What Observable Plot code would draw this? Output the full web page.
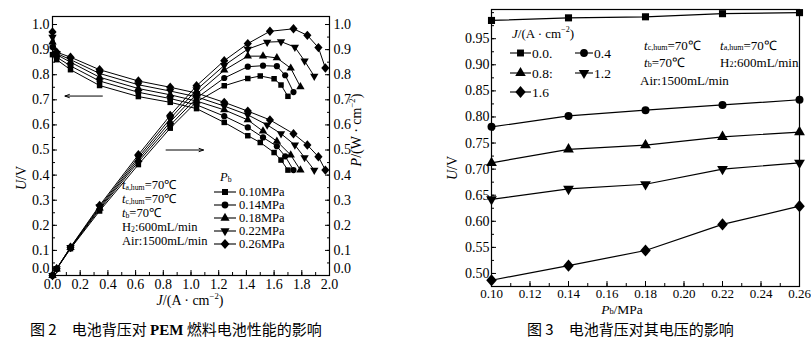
<!DOCTYPE html>
<html><head><meta charset="utf-8">
<script src="https://cdn.jsdelivr.net/npm/d3@7"></script>
<script src="https://cdn.jsdelivr.net/npm/@observablehq/plot@0.6"></script>
<style>
body{margin:0;background:#fff;}
#wrap{position:relative;width:811px;height:344px;overflow:hidden;background:#fff;}
.chart{position:absolute;}
.chart svg{overflow:visible;}
.cap{position:absolute;font-family:"Noto Sans CJK SC",sans-serif;font-size:15px;color:#000;white-space:nowrap;line-height:1;}
#overlay{position:absolute;left:0;top:0;}
</style></head><body>
<div id="wrap">
  <div id="left" class="chart" style="left:0;top:0"></div>
  <div id="right" class="chart" style="left:440px;top:0"></div>
  <svg id="overlay" width="811" height="344"></svg>
  <div class="cap" style="left:30px;top:321px">图 2　电池背压对 <b style="font-family:'Liberation Serif',serif;font-size:15px">PEM</b> 燃料电池性能的影响</div>
  <div class="cap" style="left:527px;top:321px">图 3　电池背压对其电压的影响</div>
</div>
<script>
// ---------- Figure 2 data (J in A/cm2, U in V, P in W/cm2) ----------
const backPressures = ["0.10MPa", "0.14MPa", "0.18MPa", "0.22MPa", "0.26MPa"];

const J_p010 = [0, 0.03, 0.13, 0.34, 0.62, 0.85, 1.04, 1.24, 1.41, 1.50, 1.60, 1.65, 1.70];
const U_p010 = [0.88, 0.86, 0.82, 0.757, 0.713, 0.69, 0.665, 0.61, 0.557, 0.53, 0.49, 0.46, 0.42];
const P_p010 = [0, 0.026, 0.107, 0.257, 0.442, 0.587, 0.692, 0.756, 0.785, 0.795, 0.784, 0.759, 0.714];

const J_p014 = [0, 0.03, 0.13, 0.34, 0.62, 0.85, 1.04, 1.24, 1.41, 1.52, 1.62, 1.68, 1.74];
const U_p014 = [0.91, 0.87, 0.835, 0.775, 0.73, 0.705, 0.68, 0.635, 0.59, 0.55, 0.515, 0.475, 0.42];
const P_p014 = [0, 0.026, 0.109, 0.264, 0.453, 0.599, 0.707, 0.787, 0.832, 0.836, 0.834, 0.798, 0.731];

const J_p018 = [0, 0.03, 0.13, 0.34, 0.62, 0.85, 1.04, 1.24, 1.41, 1.52, 1.62, 1.72, 1.79];
const U_p018 = [0.93, 0.88, 0.85, 0.79, 0.745, 0.72, 0.695, 0.66, 0.62, 0.575, 0.535, 0.48, 0.42];
const P_p018 = [0, 0.026, 0.111, 0.269, 0.462, 0.612, 0.723, 0.818, 0.874, 0.874, 0.867, 0.826, 0.752];

const J_p022 = [0, 0.03, 0.13, 0.34, 0.62, 0.85, 1.04, 1.24, 1.41, 1.55, 1.65, 1.75, 1.82, 1.89];
const U_p022 = [0.95, 0.885, 0.86, 0.805, 0.76, 0.735, 0.712, 0.675, 0.64, 0.60, 0.565, 0.52, 0.47, 0.42];
const P_p022 = [0, 0.027, 0.112, 0.274, 0.471, 0.625, 0.740, 0.837, 0.902, 0.930, 0.932, 0.910, 0.855, 0.794];

const J_p026 = [0, 0.03, 0.13, 0.34, 0.62, 0.85, 1.04, 1.24, 1.41, 1.57, 1.74, 1.84, 1.92, 1.97];
const U_p026 = [0.97, 0.89, 0.87, 0.82, 0.775, 0.75, 0.727, 0.69, 0.655, 0.62, 0.565, 0.52, 0.473, 0.42];
const P_p026 = [0, 0.027, 0.113, 0.279, 0.481, 0.638, 0.756, 0.856, 0.924, 0.973, 0.983, 0.957, 0.908, 0.827];

const fig2X_ticks = [0, 0.2, 0.4, 0.6, 0.8, 1.0, 1.2, 1.4, 1.6, 1.8, 2.0];
const fig2Y_ticks = [0.1, 0.2, 0.3, 0.4, 0.5, 0.6, 0.7, 0.8, 0.9, 1.0];
const fig2Y_origin = [0];
const fig2Arrows = [
  {x1: 0.36, y1: 0.715, x2: 0.09, y2: 0.715},
  {x1: 0.82, y1: 0.50, x2: 1.09, y2: 0.50}
];

// ---------- Figure 3 data (Pb in MPa, U in V) ----------
const Pb = [0.10, 0.14, 0.18, 0.22, 0.26];
const currentLabels = ["0.0.", "0.4", "0.8:", "1.2", "1.6"];
const U_J00 = [0.985, 0.990, 0.992, 0.998, 1.000];
const U_J04 = [0.781, 0.802, 0.813, 0.823, 0.833];
const U_J08 = [0.712, 0.738, 0.746, 0.762, 0.771];
const U_J12 = [0.642, 0.662, 0.671, 0.700, 0.712];
const U_J16 = [0.487, 0.515, 0.544, 0.594, 0.629];
const fig3X_ticks = [0.10, 0.12, 0.14, 0.16, 0.18, 0.20, 0.22, 0.24, 0.26];
const fig3Y_ticks = [0.50, 0.55, 0.60, 0.65, 0.70, 0.75, 0.80, 0.85, 0.90, 0.95];

// ---------- symbols ----------
const S3 = Math.sqrt(3);
const symTriDown = {draw(c, s) { const y = -Math.sqrt(s / (S3 * 3)); c.moveTo(0, -y * 2); c.lineTo(-S3 * y, y); c.lineTo(S3 * y, y); c.closePath(); }};
const symDiamond = {draw(c, s) { const r = Math.sqrt(s / 2) * 1.05; c.moveTo(0, -r * 1.15); c.lineTo(r, 0); c.lineTo(0, r * 1.15); c.lineTo(-r, 0); c.closePath(); }};
const symbols = [d3.symbolSquare, d3.symbolCircle, d3.symbolTriangle, symTriDown, symDiamond];

const serif = "'Liberation Serif', 'Times New Roman', serif";
const rows2 = [
  [J_p010, U_p010, P_p010], [J_p014, U_p014, P_p014], [J_p018, U_p018, P_p018],
  [J_p022, U_p022, P_p022], [J_p026, U_p026, P_p026]
].map(([J, U, P], k) => J.map((j, i) => ({series: backPressures[k], J: j, U: U[i], P: P[i]})));

const minor = (a, b, step) => d3.range(Math.round((b - a) / step) + 1).map(i => +(a + i * step).toFixed(4));
const f1 = d3.format(".1f");

// ---------- Figure 2 ----------
const marks2 = [
  Plot.frame({stroke: "#000", strokeWidth: 1.2}),
  Plot.axisX(fig2X_ticks, {tickSize: -5, tickPadding: 9, tickFormat: f1, label: null, fontSize: 14}),
  Plot.axisX(minor(0, 2, 0.1), {tickSize: -3, tickFormat: () => "", label: null}),
  Plot.axisY(fig2Y_ticks, {anchor: "left", tickSize: -5, tickPadding: 8, tickFormat: f1, label: null, fontSize: 14}),
  Plot.axisY(fig2Y_origin, {anchor: "left", tickSize: 0, tickPadding: 3, tickFormat: f1, label: null, fontSize: 14, dy: -7}),
  Plot.axisY(minor(0, 1, 0.05), {anchor: "left", tickSize: -3, tickFormat: () => "", label: null}),
  Plot.axisY(fig2Y_ticks, {anchor: "right", tickSize: -5, tickPadding: 9, tickFormat: f1, label: null, fontSize: 14}),
  Plot.axisY(fig2Y_origin, {anchor: "right", tickSize: 0, tickPadding: 4, tickFormat: f1, label: null, fontSize: 14, dy: -7}),
  Plot.axisY(minor(0, 1, 0.05), {anchor: "right", tickSize: -3, tickFormat: () => "", label: null}),
  Plot.arrow(fig2Arrows, {x1: "x1", y1: "y1", x2: "x2", y2: "y2", stroke: "#000", strokeWidth: 1, headLength: 7, headAngle: 40})
];
rows2.forEach((rows, k) => {
  marks2.push(Plot.line(rows, {x: "J", y: "U", stroke: "#000", strokeWidth: 1}));
  marks2.push(Plot.line(rows, {x: "J", y: "P", stroke: "#000", strokeWidth: 1}));
  marks2.push(Plot.dot(rows, {x: "J", y: "U", symbol: symbols[k], r: 3.1, fill: "#000", stroke: "none"}));
  marks2.push(Plot.dot(rows, {x: "J", y: "P", symbol: symbols[k], r: 3.1, fill: "#000", stroke: "none"}));
});
const fig2 = Plot.plot({
  width: 375, height: 310,
  marginLeft: 52, marginRight: 46, marginTop: 16, marginBottom: 35,
  x: {domain: [0, 2]},
  y: {domain: [0, 1.032]},
  style: {fontFamily: serif, fontSize: "14px", color: "#000", background: "transparent"},
  marks: marks2
});
document.getElementById("left").append(fig2);

// ---------- Figure 3 ----------
const seriesU3 = [U_J00, U_J04, U_J08, U_J12, U_J16];
const rows3 = seriesU3.map((U, k) => Pb.map((p, i) => ({J: currentLabels[k], Pb: p, U: U[i]})));
const marks3 = [
  Plot.frame({stroke: "#000", strokeWidth: 1.2}),
  Plot.axisX(fig3X_ticks, {tickSize: -5, tickPadding: 7, tickFormat: d3.format(".2f"), label: null, fontSize: 13}),
  Plot.axisX(minor(0.10, 0.26, 0.01), {tickSize: -3, tickFormat: () => "", label: null}),
  Plot.axisY(fig3Y_ticks, {anchor: "left", tickSize: -5, tickPadding: 7, tickFormat: d3.format(".2f"), label: null, fontSize: 14}),
  Plot.axisY(minor(0.475, 1.0, 0.025), {anchor: "left", tickSize: -3, tickFormat: () => "", label: null})
];
rows3.forEach((rows, k) => {
  marks3.push(Plot.line(rows, {x: "Pb", y: "U", stroke: "#000", strokeWidth: 1.2}));
  marks3.push(Plot.dot(rows, {x: "Pb", y: "U", symbol: symbols[k], r: 4, fill: "#000", stroke: "none"}));
});
const fig3 = Plot.plot({
  width: 371, height: 320,
  marginLeft: 51, marginRight: 12, marginTop: 9, marginBottom: 34,
  x: {domain: [0.10, 0.26]},
  y: {domain: [0.475, 1.006]},
  style: {fontFamily: serif, fontSize: "14px", color: "#000", background: "transparent"},
  marks: marks3
});
document.getElementById("right").append(fig3);

// ---------- overlay text, legends ----------
const ov = d3.select("#overlay").attr("font-family", serif).attr("fill", "#000");
function rich(x, y, parts, {size = 13, anchor = "start", rotate = 0} = {}) {
  const t = ov.append("text").attr("font-size", size).attr("text-anchor", anchor).attr("dominant-baseline", "central");
  if (rotate) t.attr("transform", `translate(${x},${y}) rotate(${rotate})`);
  else t.attr("x", x).attr("y", y);
  for (const p of parts) {
    const s = t.append("tspan").text(p.t);
    if (p.i) s.attr("font-style", "italic");
    if (p.sub) s.attr("font-size", size * 0.62).attr("baseline-shift", "-30%");
    if (p.sup) s.attr("font-size", size * 0.62).attr("baseline-shift", "45%");
  }
  return t;
}
function legendItem(x1, x2, y, k, area) {
  ov.append("line").attr("x1", x1).attr("x2", x2).attr("y1", y).attr("y2", y).attr("stroke", "#000").attr("stroke-width", 1.1);
  ov.append("path").attr("transform", `translate(${(x1 + x2) / 2},${y})`).attr("d", d3.symbol(symbols[k], area)()).attr("fill", "#000");
}

// Figure 2 titles
rich(21, 178, [{t: "U", i: 1}, {t: "/V"}], {size: 14, anchor: "middle", rotate: -90});
rich(356, 130, [{t: "P", i: 1}, {t: "/(W · cm"}, {t: "−2", sup: 1}, {t: ")"}], {size: 14, anchor: "middle", rotate: -90});
rich(190, 300, [{t: "J", i: 1}, {t: "/(A · cm"}, {t: "−2", sup: 1}, {t: ")"}], {size: 14, anchor: "middle"});
// Figure 2 legend
rich(220, 177, [{t: "P", i: 1}, {t: "b", sub: 1}], {size: 12.5});
backPressures.forEach((lab, k) => {
  const y = 192 + k * 13;
  legendItem(214, 236, y, k, 36);
  rich(239, y, [{t: lab}], {size: 12.5});
});
// Figure 2 conditions
rich(122, 185, [{t: "t", i: 1}, {t: "a,hum", sub: 1}, {t: "=70℃"}], {size: 12.5});
rich(122, 199, [{t: "t", i: 1}, {t: "c,hum", sub: 1}, {t: "=70℃"}], {size: 12.5});
rich(122, 213, [{t: "t", i: 1}, {t: "b", sub: 1}, {t: "=70℃"}], {size: 12.5});
rich(122, 227, [{t: "H"}, {t: "2", sub: 1}, {t: ":600mL/min"}], {size: 12.5});
rich(122, 241, [{t: "Air:1500mL/min"}], {size: 12.5});

// Figure 3 titles
rich(452, 168, [{t: "U", i: 1}, {t: "/V"}], {size: 14, anchor: "middle", rotate: -90});
rich(622, 309, [{t: "P", i: 1}, {t: "b", sub: 1}, {t: "/MPa"}], {size: 13.5, anchor: "middle"});
// Figure 3 legend
rich(512, 33, [{t: "J", i: 1}, {t: "/(A · cm"}, {t: "−2", sup: 1}, {t: ")"}], {size: 13});
const leg3 = [[510, 531, 53], [575, 593, 53], [510, 531, 73], [575, 593, 73], [510, 531, 92]];
currentLabels.forEach((lab, k) => {
  const [a, b, y] = leg3[k];
  legendItem(a, b, y, k, 48);
  rich(b + 1, y, [{t: lab}], {size: 13.5});
});
// Figure 3 conditions
rich(644, 45, [{t: "t", i: 1}, {t: "c,hum", sub: 1}, {t: "=70℃"}], {size: 13});
rich(720, 45, [{t: "t", i: 1}, {t: "a,hum", sub: 1}, {t: "=70℃"}], {size: 13});
rich(644, 62, [{t: "t", i: 1}, {t: "b", sub: 1}, {t: "=70℃"}], {size: 13});
rich(720, 62, [{t: "H"}, {t: "2", sub: 1}, {t: ":600mL/min"}], {size: 13});
rich(640, 80, [{t: "Air:1500mL/min"}], {size: 13});
</script>
</body></html>
